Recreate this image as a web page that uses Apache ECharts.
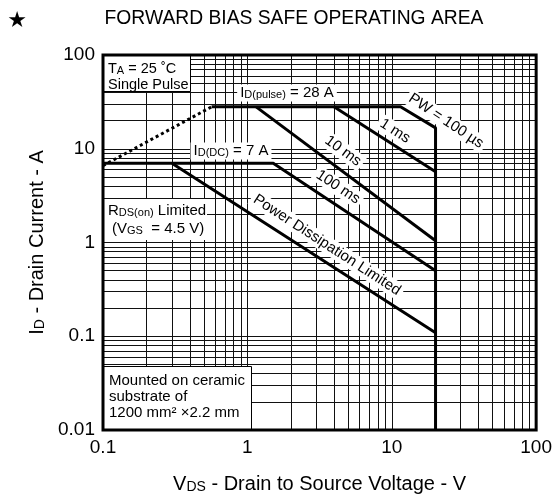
<!DOCTYPE html>
<html>
<head>
<meta charset="utf-8">
<script src="https://cdn.jsdelivr.net/npm/echarts@6/dist/echarts.min.js"></script>
<style>
html, body { margin: 0; padding: 0; background: #fff; }
#main { width: 555px; height: 502px; }
</style>
</head>
<body>
<div id="main"></div>
<script>
// SOA boundaries (V, A)
var rdsLimitV = [0.1, 0.565];
var rdsLimitI = [6.6, 28];
var pw100usV = [0.565, 11.5, 20.1, 20.1];
var pw100usI = [28, 28, 16.7, 0.01];
var pw1msV = [3.98, 20.1];
var pw1msI = [28, 5.68];
var pw10msV = [1.15, 20.1];
var pw10msI = [28, 1.045];
var pw100msV = [0.3, 1.51, 20.1];
var pw100msI = [7, 7, 0.5];
var dcV = [0.1, 0.3, 20.1];
var dcI = [7, 7, 0.109];

var xDecades = [0.1, 1, 10, 100];
var yDecades = [0.01, 0.1, 1, 10, 100];
var minorSteps = [2, 3, 4, 5, 6, 7, 8, 9];

var FONT = 'Liberation Sans, Arial, sans-serif';

function pts(xs, ys) {
    return xs.map(function (x, i) { return [x, ys[i]]; });
}

// log grid lines (2..9 in every decade)
var gridLines = [];
xDecades.slice(0, -1).forEach(function (d) {
    minorSteps.forEach(function (m) { gridLines.push({ xAxis: d * m }); });
});
yDecades.slice(0, -1).forEach(function (d) {
    minorSteps.forEach(function (m) { gridLines.push({ yAxis: d * m }); });
});

function curve(name, xs, ys, dotted) {
    return {
        name: name,
        type: 'line',
        data: pts(xs, ys),
        symbol: 'none',
        silent: true,
        z: 3,
        lineStyle: { color: '#000', width: 3, type: dotted ? 'dotted' : 'solid' }
    };
}

var sub = { fontSize: 11, fontFamily: FONT, fill: '#000', verticalAlign: 'bottom' };
var base = { fontSize: 15, fontFamily: FONT, fill: '#000', verticalAlign: 'bottom' };

function label(x, y, text, rotDeg, align, bg, size) {
    return {
        type: 'text',
        x: x,
        y: y,
        rotation: (rotDeg || 0) * Math.PI / 180,
        z: 2,
        silent: true,
        style: {
            text: text,
            fontSize: size || 15,
            fontFamily: FONT,
            fill: '#000',
            align: align || 'center',
            verticalAlign: 'middle',
            textAlign: align || 'center',
            textVerticalAlign: 'middle',
            backgroundColor: bg === false ? null : '#fff',
            padding: [1, 3],
            rich: { s: sub, b: size ? { fontSize: size, fontFamily: FONT, fill: '#000', verticalAlign: 'bottom' } : base }
        }
    };
}

var myChart = echarts.init(document.getElementById('main'));
var option = {
    animation: false,
    grid: {
        left: 103, right: 17, top: 55, bottom: 72,
        show: true, borderColor: '#000', borderWidth: 3, z: 5
    },
    xAxis: {
        type: 'log',
        logBase: 10,
        min: 0.1,
        max: 100,
        name: '{b|V}{s|DS}{b| - Drain to Source Voltage - V}',
        nameLocation: 'middle',
        nameGap: 44,
        nameTextStyle: {
            rich: {
                b: { fontSize: 20, fontFamily: FONT, color: '#000', verticalAlign: 'bottom' },
                s: { fontSize: 14, fontFamily: FONT, color: '#000', verticalAlign: 'bottom' }
            }
        },
        axisLine: { show: false },
        axisTick: { show: false },
        axisLabel: {
            color: '#000', fontSize: 19, fontFamily: FONT, margin: 8,
            formatter: function (v) { return String(+(+v).toPrecision(2)); }
        },
        splitLine: { show: true, lineStyle: { color: '#111', width: 1 } }
    },
    yAxis: {
        type: 'log',
        logBase: 10,
        min: 0.01,
        max: 100,
        name: '{b|I}{s|D}{b| - Drain Current - A}',
        nameLocation: 'middle',
        nameGap: 56,
        nameTextStyle: {
            rich: {
                b: { fontSize: 20, fontFamily: FONT, color: '#000', verticalAlign: 'bottom' },
                s: { fontSize: 14, fontFamily: FONT, color: '#000', verticalAlign: 'bottom' }
            }
        },
        axisLine: { show: false },
        axisTick: { show: false },
        axisLabel: {
            color: '#000', fontSize: 19, fontFamily: FONT, margin: 8,
            formatter: function (v) { return String(+(+v).toPrecision(2)); }
        },
        splitLine: { show: true, lineStyle: { color: '#111', width: 1 } }
    },
    series: [
        {
            type: 'line',
            data: [],
            z: 1,
            silent: true,
            markLine: {
                z: 1,
                silent: true,
                symbol: ['none', 'none'],
                label: { show: false },
                animation: false,
                lineStyle: { color: '#111', width: 1, type: 'solid' },
                data: gridLines
            }
        },
        curve('RDS(on) limit', rdsLimitV, rdsLimitI, true),
        curve('100 µs', pw100usV, pw100usI),
        curve('1 ms', pw1msV, pw1msI),
        curve('10 ms', pw10msV, pw10msI),
        curve('100 ms', pw100msV, pw100msI),
        curve('DC', dcV, dcI)
    ],
    graphic: [
        { type: 'text', x: 17, y: 21, z: 2, style: { text: '★', fontSize: 22, fontFamily: 'DejaVu Sans', fill: '#000', align: 'center', verticalAlign: 'middle', textAlign: 'center', textVerticalAlign: 'middle' } },
        { type: 'text', x: 294, y: 19, z: 2, style: { text: 'FORWARD BIAS SAFE OPERATING AREA', fontSize: 19.3, fontFamily: FONT, fill: '#000', align: 'center', verticalAlign: 'middle', textAlign: 'center', textVerticalAlign: 'middle' } },

        // TA box
        { type: 'rect', z: 2, silent: true, shape: { x: 103.5, y: 55.5, width: 87, height: 36 }, style: { fill: '#fff', stroke: '#000', lineWidth: 1 } },
        label(105, 69, '{b|T}{s|A}{b| = 25 ˚C}', 0, 'left', false, 14.5),
        label(105, 85, 'Single Pulse', 0, 'left', false, 14.5),

        label(287, 93, '{b|I}{s|D(pulse)}{b| = 28 A}'),
        label(231, 151, '{b|I}{s|D(DC)}{b| = 7 A}'),

        // RDS(on) box
        { type: 'rect', z: 2, silent: true, shape: { x: 103, y: 199, width: 104, height: 41 }, style: { fill: '#fff' } },
        label(105, 211, '{b|R}{s|DS(on)}{b| Limited}', 0, 'left', false),
        label(109, 229, '{b|(V}{s|GS}{b|  = 4.5 V)}', 0, 'left', false),

        label(446, 121, 'PW = 100 µs', -33.7),
        label(395, 131, '1 ms', -32.5),
        label(343, 151, '10 ms', -36),
        label(338, 187, '100 ms', -33.5),
        label(327, 245, 'Power Dissipation Limited', -33),

        // substrate note
        { type: 'rect', z: 2, silent: true, shape: { x: 103.5, y: 366.5, width: 148, height: 64 }, style: { fill: '#fff', stroke: '#000', lineWidth: 1 } },
        label(106, 381, 'Mounted on ceramic', 0, 'left', false),
        label(106, 397, 'substrate of', 0, 'left', false),
        label(106, 413, '1200 mm² ×2.2 mm', 0, 'left', false)
    ]
};
myChart.setOption(option);
</script>
</body>
</html>
